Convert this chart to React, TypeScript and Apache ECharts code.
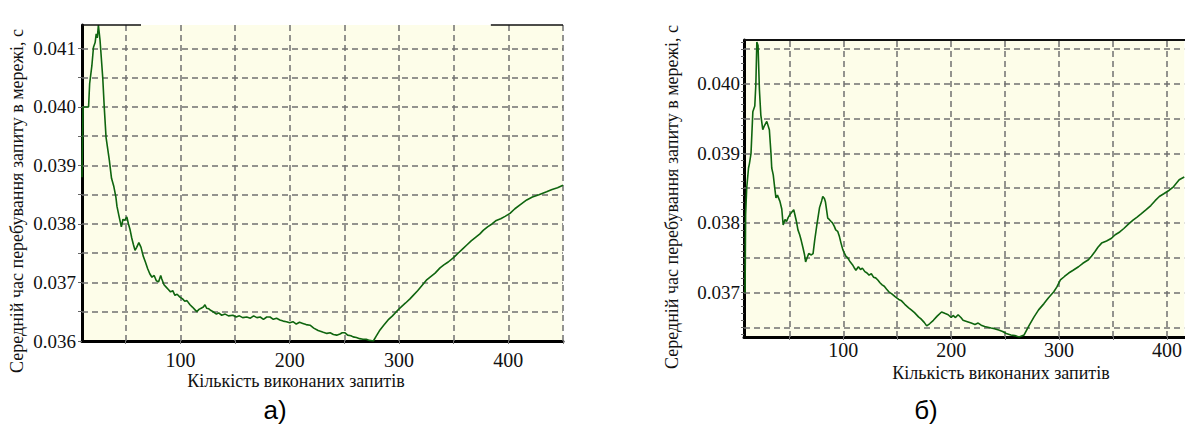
import { useEffect, useRef } from "react";
import * as echarts from "echarts";

// Panel а): mean time in network vs number of processed requests
const leftX = [
  10, 10.5, 11, 16, 17, 19, 20.5, 22, 23, 24, 25, 26.5, 28, 29, 30.4, 32, 35, 37, 39, 41,
  42, 44, 46, 47.5, 49, 51, 52.5, 54, 55.5, 57, 58.5, 60, 62, 64, 66, 68, 70, 72, 74, 76,
  78, 80, 82, 83, 85, 87, 89, 91, 93, 95, 97, 99.6, 102, 104, 106, 108.8, 111, 113, 115, 117,
  119, 121, 122.5, 124, 126, 128, 130, 133, 135, 137.8, 141, 144, 148, 151, 154, 157, 160.7, 164, 167, 170,
  173, 176, 179, 182, 185, 188, 191, 194, 197, 200, 203, 206, 209, 212, 215, 218.6, 222, 226, 230.7, 234,
  237, 240, 243, 246, 248, 250.6, 253, 256, 258, 261, 264, 267, 270, 273, 276.5, 279, 282.6, 286, 290, 294,
  299, 303, 306, 310, 313, 317, 321, 325, 329, 333, 337.5, 341, 345, 349.6, 354, 358, 362, 366, 370, 374,
  377, 381, 385, 389, 393, 397, 401.5, 406, 411, 416.8, 422, 428, 435, 440, 445, 450,
];
const leftY = [
  0.0388, 0.03945, 0.04, 0.04, 0.0404, 0.0407, 0.04102, 0.0411, 0.04125, 0.04118, 0.0414, 0.04114, 0.04075, 0.04049, 0.03998, 0.03948, 0.03909, 0.03878, 0.03865, 0.03846,
  0.0383, 0.03812, 0.03795, 0.03808, 0.03806, 0.03812, 0.038, 0.0379, 0.03776, 0.03765, 0.03755, 0.0376, 0.03768, 0.0376, 0.03745, 0.03735, 0.03724, 0.03715, 0.03709, 0.03712,
  0.03703, 0.03701, 0.03712, 0.03706, 0.03696, 0.03692, 0.03688, 0.03684, 0.03686, 0.03678, 0.0368, 0.03675, 0.03672, 0.03668, 0.03669, 0.03662, 0.03658, 0.03654, 0.0365, 0.03654,
  0.03656, 0.03658, 0.03662, 0.03656, 0.03655, 0.03652, 0.0365, 0.03646, 0.03648, 0.03644, 0.03646, 0.03643, 0.03644, 0.03641, 0.03643, 0.0364, 0.03641, 0.03639, 0.03643, 0.0364,
  0.03641, 0.03637, 0.03641, 0.03641, 0.03637, 0.03639, 0.03636, 0.03634, 0.03633, 0.03631, 0.03633, 0.03629, 0.03632, 0.0363, 0.03628, 0.03627, 0.03622, 0.03618, 0.03615, 0.03613,
  0.03614, 0.03611, 0.0361, 0.03612, 0.03614, 0.03614, 0.0361, 0.03609, 0.03607, 0.03606, 0.03604, 0.03603, 0.03603, 0.03601, 0.036, 0.03608, 0.03619, 0.03627, 0.03636, 0.03643,
  0.03653, 0.0366, 0.03665, 0.03672, 0.03678, 0.03686, 0.03695, 0.03704, 0.0371, 0.03716, 0.03725, 0.0373, 0.03735, 0.03742, 0.0375, 0.03757, 0.03764, 0.03771, 0.03777, 0.03783,
  0.03789, 0.03795, 0.038, 0.03806, 0.03809, 0.03813, 0.03818, 0.03826, 0.03833, 0.03841, 0.03846, 0.0385, 0.03855, 0.03859, 0.03862, 0.03866,
];

// Panel б)
const rightX = [
  9, 9.5, 10.5, 12.2, 13, 14.5, 16.2, 18, 19, 19.9, 21, 22.3, 23.6, 25.4, 27, 29.1, 31.5, 33, 33.7, 35.1,
  36.5, 37.6, 39, 41.3, 43, 44.3, 46, 47.4, 49, 50.5, 52, 54.1, 56.6, 58, 59.6, 61, 62.7, 64, 65.1, 66.5,
  68, 70.4, 72, 73.5, 75.5, 78, 80, 81, 82.5, 83.5, 85.6, 87, 88.7, 90, 91.7, 93, 94.8, 96.5, 97.9, 99.5,
  100.9, 102.5, 104, 106, 108.5, 110, 111.7, 114, 116, 117.7, 120, 122, 123.9, 126, 128, 130, 132, 134, 136, 138,
  140, 142.2, 145, 148, 151.4, 154, 157, 160.6, 163, 166, 169.7, 172, 175, 177.3, 180, 183.5, 187, 191.1, 194, 197.2,
  200, 201.8, 204, 206.4, 209, 211, 215, 218.6, 222, 225, 227.8, 231, 234, 237, 240.1, 244, 247.7, 251, 255.3, 259,
  263, 267.6, 272, 276.8, 281, 286, 290, 295.1, 298, 301.2, 305, 308.9, 313, 318, 322, 327.2, 330, 333.3, 336, 339.4,
  344, 348.6, 352, 356.2, 360, 364, 368.5, 372, 376, 380.7, 385, 389, 392.9, 397, 402.1, 406, 411.3, 416,
];
const rightY = [
  0.037, 0.03812, 0.0385, 0.03879, 0.03885, 0.039, 0.0396, 0.03968, 0.04, 0.0406, 0.04055, 0.03991, 0.03955, 0.03934, 0.0394, 0.03946, 0.03934, 0.039, 0.03879, 0.03869,
  0.0385, 0.03836, 0.0384, 0.03831, 0.0382, 0.03797, 0.03805, 0.03802, 0.03808, 0.03812, 0.03815, 0.03819, 0.03802, 0.0379, 0.03783, 0.03775, 0.03764, 0.03755, 0.03744, 0.0375,
  0.03756, 0.03754, 0.03756, 0.03775, 0.03797, 0.03822, 0.03832, 0.03838, 0.03835, 0.0383, 0.03807, 0.03805, 0.03802, 0.038, 0.03795, 0.0379, 0.03788, 0.0378, 0.03771, 0.03762,
  0.03757, 0.03752, 0.0375, 0.03745, 0.0374, 0.03736, 0.03732, 0.03737, 0.03733, 0.03735, 0.0373, 0.03728, 0.03725, 0.03727, 0.03722, 0.03721, 0.03718, 0.03714, 0.03711, 0.03709,
  0.03705, 0.03701, 0.03698, 0.03694, 0.0369, 0.03688, 0.03683, 0.03678, 0.03675, 0.03671, 0.03665, 0.03662, 0.03657, 0.03652, 0.03655, 0.0366, 0.03666, 0.03672, 0.0367, 0.03668,
  0.03664, 0.03667, 0.03664, 0.03668, 0.03664, 0.0366, 0.03658, 0.03656, 0.03654, 0.03656, 0.03653, 0.03651, 0.0365, 0.03649, 0.03648, 0.03646, 0.03644, 0.03641, 0.03639, 0.03638,
  0.03636, 0.03639, 0.03652, 0.03665, 0.03675, 0.03684, 0.03692, 0.03701, 0.03708, 0.03718, 0.03723, 0.03728, 0.03732, 0.03737, 0.03742, 0.03747, 0.03752, 0.03759, 0.03765, 0.03771,
  0.03774, 0.03778, 0.03783, 0.03787, 0.03792, 0.03798, 0.03804, 0.03808, 0.03813, 0.03819, 0.03825, 0.03832, 0.03838, 0.03842, 0.03847, 0.03852, 0.03862, 0.03866,
];

const leftXGrid = [50, 100, 150, 200, 250, 300, 350, 400, 450];
const leftXLabels = [100, 200, 300, 400];
const leftYGrid = [0.0365, 0.037, 0.0375, 0.038, 0.0385, 0.039, 0.0395, 0.04, 0.0405, 0.041];
const leftYLabels = [0.036, 0.037, 0.038, 0.039, 0.04, 0.041];

const rightXGrid = [50, 100, 150, 200, 250, 300, 350, 400];
const rightXLabels = [100, 200, 300, 400];
const rightYGrid = [0.0365, 0.037, 0.0375, 0.038, 0.0385, 0.039, 0.0395, 0.04, 0.0405];
const rightYLabels = [0.037, 0.038, 0.039, 0.04];
const rightYTicks = Array.from({ length: 43 }, (_, i) => +(0.0364 + i * 0.0001).toFixed(4));

const yName = "Середній час перебування запиту в мережі, с";
const xName = "Кількість виконаних запитів";

const LEFT = { left: 82, top: 25, width: 481, height: 316, xMin: 10, xMax: 450, yMin: 0.036, yMax: 0.0414 };
const RIGHT = { left: 744, top: 40, width: 444, height: 297, xMin: 8, xMax: 416, yMin: 0.03636, yMax: 0.04063 };

const SERIF = "'Liberation Serif', 'Times New Roman', serif";
const PLOT_BG = "#fdfde9";
const GRID_LINE = { color: "#707070", width: 1.5, type: [6, 4] as number[] };
const CURVE = "#0f650f";

function zip(xs: number[], ys: number[]) {
  return xs.map((x, i) => [x, ys[i]]);
}

function xAxisFor(idx: number, p: typeof LEFT, labels: number[], ticks: number[], margin: number) {
  return {
    type: "value",
    gridIndex: idx,
    min: p.xMin,
    max: p.xMax,
    axisLine: { show: true, onZero: false, lineStyle: { color: "#000", width: 3 } },
    axisTick: { show: true, customValues: ticks, length: 3, lineStyle: { color: "#777" } },
    splitLine: { show: false },
    axisLabel: {
      customValues: labels,
      margin,
      color: "#111",
      fontFamily: SERIF,
      fontSize: 20,
      formatter: (v: number) => String(Math.round(v)),
    },
  };
}

function yAxisFor(idx: number, p: typeof LEFT, labels: number[], ticks: number[], margin: number, tickLen: number) {
  return {
    type: "value",
    gridIndex: idx,
    min: p.yMin,
    max: p.yMax,
    axisLine: { show: true, lineStyle: { color: "#000", width: 3 } },
    axisTick: { show: true, customValues: ticks, length: tickLen, lineStyle: { color: "#666" } },
    splitLine: { show: false },
    axisLabel: {
      customValues: labels,
      margin,
      color: "#111",
      fontFamily: SERIF,
      fontSize: 19,
      formatter: (v: number) => v.toFixed(3),
    },
  };
}

// dashed background grid, drawn below the curve
function gridMarks(xs: number[], ys: number[]) {
  return {
    silent: true,
    z: 1,
    precision: 6,
    symbol: ["none", "none"],
    label: { show: false },
    lineStyle: GRID_LINE,
    emphasis: { disabled: true },
    data: [...xs.map((v) => ({ xAxis: v })), ...ys.map((v) => ({ yAxis: v }))],
  };
}

function pxX(p: typeof LEFT, v: number) {
  return p.left + ((v - p.xMin) / (p.xMax - p.xMin)) * p.width;
}

export default function App() {
  const ref = useRef<HTMLDivElement>(null);

  useEffect(() => {
    if (!ref.current) return;
    const chart = echarts.init(ref.current, undefined, { renderer: "svg" });
    const textStyle = { fill: "#111", font: `18px ${SERIF}` };
    chart.setOption({
      animation: false,
      backgroundColor: "#ffffff",
      grid: [
        { left: LEFT.left, top: LEFT.top, width: LEFT.width, height: LEFT.height, show: true, backgroundColor: PLOT_BG, borderWidth: 0 },
        { left: RIGHT.left, top: RIGHT.top, width: RIGHT.width, height: RIGHT.height, show: true, backgroundColor: PLOT_BG, borderWidth: 0 },
      ],
      xAxis: [
        xAxisFor(0, LEFT, leftXLabels, leftXGrid, 9),
        xAxisFor(1, RIGHT, rightXLabels, rightXGrid, 3),
      ],
      yAxis: [
        yAxisFor(0, LEFT, leftYLabels, leftYGrid.concat(leftYLabels), 6, 4),
        yAxisFor(1, RIGHT, rightYLabels, rightYTicks, 4, 3),
      ],
      series: [
        {
          type: "line",
          xAxisIndex: 0,
          yAxisIndex: 0,
          data: zip(leftX, leftY),
          showSymbol: false,
          z: 3,
          lineStyle: { color: CURVE, width: 1.6 },
          markLine: gridMarks(leftXGrid, leftYGrid),
        },
        {
          type: "line",
          xAxisIndex: 1,
          yAxisIndex: 1,
          data: zip(rightX, rightY),
          showSymbol: false,
          z: 3,
          lineStyle: { color: CURVE, width: 1.6 },
          markLine: gridMarks(rightXGrid, rightYGrid),
        },
      ],
      graphic: [
        // top frame pieces of panel а)
        {
          type: "line",
          z: 10,
          shape: { x1: LEFT.left, y1: LEFT.top, x2: pxX(LEFT, 64), y2: LEFT.top },
          style: { stroke: "#111", lineWidth: 1.5 },
        },
        {
          type: "line",
          z: 10,
          shape: { x1: pxX(LEFT, 384), y1: LEFT.top, x2: LEFT.left + LEFT.width, y2: LEFT.top },
          style: { stroke: "#111", lineWidth: 1.5 },
        },
        // top frame of panel б)
        {
          type: "line",
          z: 10,
          shape: { x1: RIGHT.left, y1: RIGHT.top, x2: RIGHT.left + RIGHT.width, y2: RIGHT.top },
          style: { stroke: "#111", lineWidth: 2 },
        },
        {
          type: "text",
          x: 17,
          y: 201,
          rotation: Math.PI / 2,
          style: { text: yName, ...textStyle, align: "center", verticalAlign: "middle" },
        },
        {
          type: "text",
          x: 672,
          y: 197,
          rotation: Math.PI / 2,
          style: { text: yName, ...textStyle, align: "center", verticalAlign: "middle" },
        },
        {
          type: "text",
          x: 296,
          y: 381,
          style: { text: xName, ...textStyle, align: "center", verticalAlign: "middle" },
        },
        {
          type: "text",
          x: 1001,
          y: 373,
          style: { text: xName, ...textStyle, align: "center", verticalAlign: "middle" },
        },
        {
          type: "text",
          x: 275,
          y: 410,
          style: { text: "а)", fill: "#000", font: "26px 'Liberation Sans', Arial, sans-serif", align: "center", verticalAlign: "middle" },
        },
        {
          type: "text",
          x: 926,
          y: 410,
          style: { text: "б)", fill: "#000", font: "26px 'Liberation Sans', Arial, sans-serif", align: "center", verticalAlign: "middle" },
        },
      ],
    });
    return () => chart.dispose();
  }, []);

  return <div ref={ref} style={{ position: "fixed", left: 0, top: 0, width: 1185, height: 430 }} />;
}
